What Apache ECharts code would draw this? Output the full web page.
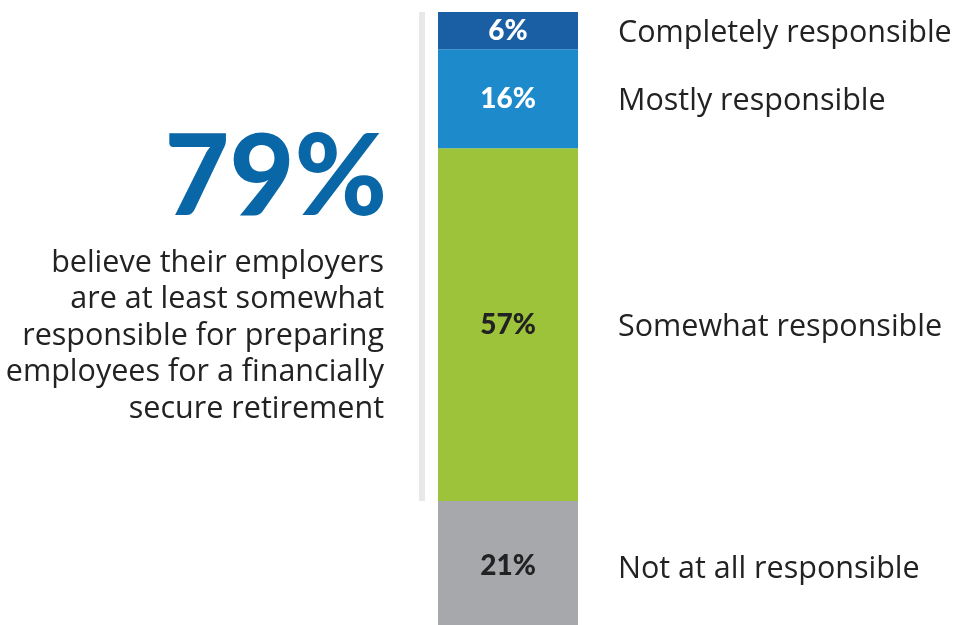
<!DOCTYPE html>
<html>
<head>
<meta charset="utf-8">
<script src="https://cdn.jsdelivr.net/npm/echarts@6/dist/echarts.min.js"></script>
<style>
  html, body { margin: 0; padding: 0; background: #ffffff; }
  #chart { width: 956px; height: 625px; }
</style>
</head>
<body>
<div id="chart"></div>
<script>
// Response categories, stacked bottom to top
const categories = ['Not at all responsible', 'Somewhat responsible', 'Mostly responsible', 'Completely responsible'];
const shares = [21, 57, 16, 6];
const headlineLines = [
  'believe their employers',
  'are at least somewhat',
  'responsible for preparing',
  'employees for a financially',
  'secure retirement'
];

// Share who say at least somewhat responsible
const atLeastSomewhat = shares.slice(1).reduce((a, b) => a + b, 0);

const fills = ['#a7a8ab', '#9dc33b', '#1d8bcb', '#1a5fa3'];
const valueInk = ['#222222', '#222222', '#ffffff', '#ffffff'];

const chart = echarts.init(document.getElementById('chart'), null, { renderer: 'canvas' });

const barSeries = categories.map((name, i) => ({
  name: name,
  type: 'bar',
  stack: 'shares',
  xAxisIndex: 0,
  yAxisIndex: 0,
  barWidth: 140,
  silent: true,
  itemStyle: { color: fills[i] },
  label: {
    show: true,
    position: 'inside',
    formatter: '{c}%',
    color: valueInk[i],
    fontFamily: 'Lato, "Liberation Sans", sans-serif',
    fontWeight: 900,
    fontSize: 28
  },
  data: [shares[i]]
}));

// Invisible twin stack carrying the category names to the right of the bar
const nameSeries = categories.map((name, i) => ({
  name: name + ' label',
  type: 'bar',
  stack: 'names',
  xAxisIndex: 1,
  yAxisIndex: 1,
  barWidth: 140,
  silent: true,
  itemStyle: { color: 'rgba(0,0,0,0)' },
  label: {
    show: true,
    position: 'right',
    distance: 40,
    offset: [0, 3],
    formatter: name,
    color: '#222222',
    fontFamily: '"Open Sans", "Noto Sans", sans-serif',
    fontSize: 30.5
  },
  data: [shares[i]]
}));

// Thin bracket marking the "at least somewhat" share
const bracketSeries = [
  {
    type: 'bar', stack: 'bracket', xAxisIndex: 2, yAxisIndex: 2, barWidth: 6, silent: true,
    itemStyle: { color: 'rgba(0,0,0,0)' }, data: [shares[0]]
  },
  {
    type: 'bar', stack: 'bracket', xAxisIndex: 2, yAxisIndex: 2, barWidth: 6, silent: true,
    itemStyle: { color: '#e8e8ea' }, data: [atLeastSomewhat]
  }
];

const hiddenCat = { type: 'category', data: ['all'], show: false };
const hiddenVal = { type: 'value', min: 0, max: 100, show: false };

chart.setOption({
  animation: false,
  backgroundColor: '#ffffff',
  graphic: [
    {
      type: 'text',
      x: 387,
      y: 123,
      silent: true,
      style: {
        text: atLeastSomewhat + '%',
        align: 'right',
        verticalAlign: 'top',
        fill: '#0a67a7',
        fontFamily: 'Lato, "Liberation Sans", sans-serif',
        fontWeight: 900,
        fontSize: 112
      }
    },
    {
      type: 'text',
      x: 384,
      y: 245,
      silent: true,
      style: {
        text: headlineLines.join('\n'),
        align: 'right',
        verticalAlign: 'top',
        fill: '#222222',
        fontFamily: '"Open Sans", "Noto Sans", sans-serif',
        fontSize: 30.5,
        lineHeight: 36.5
      }
    }
  ],
  grid: [
    { left: 438, width: 140, top: 12, height: 619, outerBoundsMode: 'none' },
    { left: 438, width: 140, top: 12, height: 619, outerBoundsMode: 'none' },
    { left: 419, width: 6, top: 12, height: 619, outerBoundsMode: 'none' }
  ],
  xAxis: [
    Object.assign({ gridIndex: 0 }, hiddenCat),
    Object.assign({ gridIndex: 1 }, hiddenCat),
    Object.assign({ gridIndex: 2 }, hiddenCat)
  ],
  yAxis: [
    Object.assign({ gridIndex: 0 }, hiddenVal),
    Object.assign({ gridIndex: 1 }, hiddenVal),
    Object.assign({ gridIndex: 2 }, hiddenVal)
  ],
  series: [...bracketSeries, ...barSeries, ...nameSeries]
});
</script>
</body>
</html>
